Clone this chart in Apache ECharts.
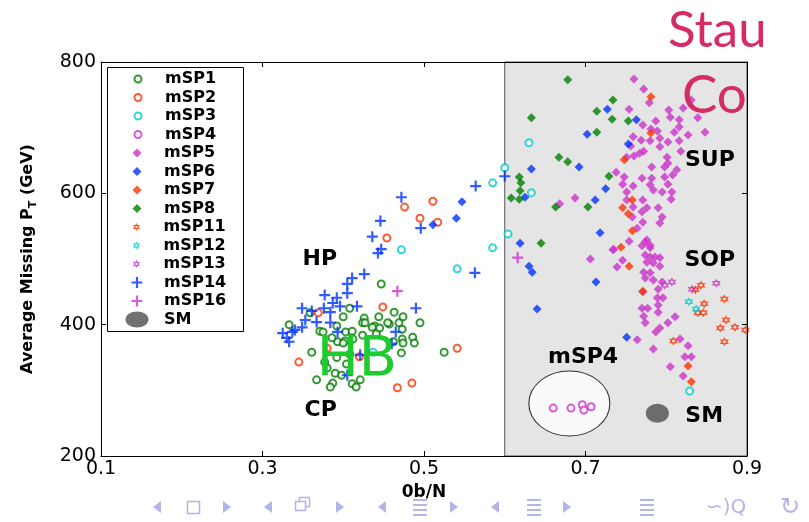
<!DOCTYPE html>
<html><head><meta charset="utf-8">
<script src="https://cdn.jsdelivr.net/npm/echarts@6/dist/echarts.min.js"></script>
<style>html,body{margin:0;padding:0;background:#fff}#c{width:809px;height:522px}</style>
</head><body><div id="c"></div>
<script>
// ---- axis / ticks ----
const xTicks = [0.1, 0.3, 0.5, 0.7, 0.9];
const yTicks = [200, 400, 600, 800];
const shadedRange = [0.6, 0.9];

// ---- series data [0b/N, Average missing PT (GeV)] ----
const mSP1 = [[0.447,462],[0.333,400],[0.359,418],[0.408,425],[0.400,412],[0.426,410],[0.444,412],[0.463,419],[0.474,412],[0.424,403],[0.439,398],[0.457,401],[0.469,403],[0.473,393],[0.495,403],[0.436,396],[0.371,390],[0.392,398],[0.403,389],[0.411,390],[0.424,384],[0.441,386],[0.486,381],[0.473,378],[0.462,374],[0.474,372],[0.488,372],[0.393,374],[0.402,375],[0.361,358],[0.408,355],[0.472,357],[0.525,358],[0.377,343],[0.380,334],[0.390,326],[0.398,323],[0.367,316],[0.387,311],[0.384,305],[0.411,310],[0.416,305],[0.421,316],[0.375,389],[0.455,403],[0.427,403],[0.386,380],[0.400,372],[0.412,378],[0.445,395],[0.392,350],[0.404,340]];
const mSP2 = [[0.476,579],[0.511,588],[0.495,562],[0.517,556],[0.454,532],[0.449,427],[0.369,418],[0.345,343],[0.380,364],[0.420,351],[0.541,364],[0.485,311],[0.467,304]];
const mSP3 = [[0.630,677],[0.600,639],[0.585,616],[0.633,601],[0.604,538],[0.585,517],[0.472,514],[0.541,485],[0.829,299],[0.437,358]];
const mSP4 = [[0.660,273],[0.682,273],[0.696,278],[0.698,270],[0.707,275]];
const mSP5 = [[0.760,774],[0.772,759],[0.779,738],[0.754,728],[0.803,727],[0.805,716],[0.821,730],[0.831,742],[0.816,712],[0.839,715],[0.848,693],[0.827,689],[0.816,701],[0.810,693],[0.816,680],[0.802,678],[0.792,684],[0.789,695],[0.787,710],[0.771,704],[0.781,698],[0.759,686],[0.769,681],[0.780,680],[0.756,672],[0.792,671],[0.818,664],[0.772,664],[0.767,661],[0.760,657],[0.751,655],[0.801,655],[0.802,646],[0.782,640],[0.798,640],[0.813,636],[0.808,628],[0.798,625],[0.738,632],[0.748,625],[0.770,623],[0.782,623],[0.746,614],[0.759,611],[0.780,613],[0.802,614],[0.784,605],[0.795,602],[0.807,602],[0.751,602],[0.806,591],[0.751,590],[0.759,579],[0.771,590],[0.776,578],[0.790,578],[0.770,572],[0.795,564],[0.758,564],[0.771,556],[0.792,555],[0.764,547],[0.754,527],[0.774,526],[0.780,521],[0.734,514],[0.687,593],[0.668,584],[0.706,500],[0.776,529],[0.770,520],[0.780,517],[0.735,515],[0.746,498],[0.739,488],[0.774,506],[0.780,503],[0.786,503],[0.792,502],[0.776,495],[0.784,494],[0.792,489],[0.772,480],[0.780,479],[0.774,471],[0.784,468],[0.795,465],[0.790,454],[0.771,450],[0.789,441],[0.796,441],[0.790,430],[0.770,425],[0.777,425],[0.790,419],[0.772,413],[0.774,403],[0.811,412],[0.802,403],[0.792,395],[0.787,389],[0.764,377],[0.784,363],[0.817,378],[0.827,368],[0.823,351],[0.831,351],[0.805,336],[0.821,322]];
const mSP6 = [[0.727,728],[0.763,712],[0.702,690],[0.692,640],[0.633,637],[0.753,675],[0.725,607],[0.712,590],[0.625,594],[0.718,540],[0.619,524],[0.630,489],[0.634,480],[0.713,465],[0.640,424],[0.751,381],[0.547,587],[0.540,562],[0.511,552]];
const mSP7 = [[0.781,747],[0.781,692],[0.748,651],[0.758,590],[0.746,578],[0.753,569],[0.758,543],[0.744,518],[0.754,489],[0.771,451],[0.827,337],[0.831,313]];
const mSP8 = [[0.678,773],[0.734,742],[0.714,725],[0.733,713],[0.753,710],[0.633,715],[0.714,693],[0.667,655],[0.678,648],[0.729,626],[0.618,625],[0.620,616],[0.619,604],[0.608,593],[0.618,591],[0.663,579],[0.703,579],[0.645,524]];
const mSP11 = [[0.836,453],[0.843,460],[0.847,432],[0.846,418],[0.839,418],[0.872,439],[0.874,407],[0.867,395],[0.885,396],[0.898,392],[0.872,374],[0.809,375]];
const mSP12 = [[0.828,435],[0.837,424]];
const mSP13 = [[0.798,460],[0.807,465],[0.832,454],[0.862,463]];
const mSP14 = [[0.564,611],[0.472,594],[0.446,558],[0.496,547],[0.436,534],[0.447,515],[0.443,509],[0.563,479],[0.426,477],[0.411,471],[0.405,462],[0.405,448],[0.377,445],[0.392,441],[0.387,433],[0.396,428],[0.417,428],[0.490,425],[0.349,425],[0.361,421],[0.376,425],[0.384,419],[0.353,407],[0.367,404],[0.384,403],[0.349,396],[0.337,389],[0.325,387],[0.333,374],[0.393,389],[0.465,389],[0.460,371],[0.421,354],[0.405,323],[0.600,626],[0.330,380],[0.340,392]];
const mSP16 = [[0.467,451],[0.616,502]];
const SM = [[0.789,265]];
const mSP4Circle = [[0.680,280]];

// annotation texts and where they sit (data coordinates)
const annotationNames = ['HP','CP','SUP','SOP','SM','mSP4'];
const annotationAt = [[0.371,500],[0.372,270],[0.854,651],[0.854,498],[0.847,261],[0.697,351]];
const hbText = 'HB';
const hbAt = [0.417,346];

// ---- styling ----
const F = 'DejaVu Sans';
const C = {green:'#008000', red:'#ff3300', cyan:'#00cccc', mag:'#cc33cc', blue:'#0033ff', sm:'#4d4d4d'};
const HEX = 'path://M10,0L12.89,5L18.66,5L15.77,10L18.66,15L12.89,15L10,20L7.11,15L1.34,15L4.23,10L1.34,5L7.11,5Z M11.6,7.2L8.4,7.2L6.8,10L8.4,12.8L11.6,12.8L13.2,10Z';
const PLUS = 'path://M4,0H6V4H10V6H6V10H4V6H0V4H4Z';
// legend icons padded to the full 44px slot with invisible corner specks
const SMICON = 'path://M0,0L0.01,0L0,0.01Z M44,16L43.99,16L44,15.99Z M10.5,8A11.5,8 0 1,0 33.5,8A11.5,8 0 1,0 10.5,8Z';
const DIAICON = 'path://M0,0L0.01,0L0,0.01Z M44,9L43.99,9L44,8.99Z M22,0L26.5,4.5L22,9L17.5,4.5Z';

function sc(name, data, symbol, size, color, extra) {
  return Object.assign({
    name, type:'scatter', data, symbol, symbolSize:size, animation:false,
    itemStyle:{color}, z:3
  }, extra || {});
}
const emptyStyle = c => ({itemStyle:{color:c, borderColor:c, borderWidth:1.2}});

const series = [
  {type:'scatter', data:[], silent:true, z:1,
   markArea:{silent:true, itemStyle:{color:'#e5e5e5', borderColor:'#555', borderWidth:1},
     data:[[{xAxis:shadedRange[0], yAxis:yTicks[0]},{xAxis:shadedRange[1], yAxis:yTicks[yTicks.length-1]}]]}},
  {type:'scatter', name:'circle', data:mSP4Circle, symbol:'circle', symbolSize:[81,65], silent:true, z:2,
   itemStyle:{color:'#fff', borderColor:'#000', borderWidth:1}},
  sc('mSP1', mSP1, 'emptyCircle', 7, C.green, emptyStyle(C.green)),
  sc('mSP2', mSP2, 'emptyCircle', 7, C.red, emptyStyle(C.red)),
  sc('mSP3', mSP3, 'emptyCircle', 7, C.cyan, emptyStyle(C.cyan)),
  sc('mSP4', mSP4, 'emptyCircle', 7, C.mag, emptyStyle(C.mag)),
  sc('mSP5', mSP5, 'diamond', 9, C.mag),
  sc('mSP6', mSP6, 'diamond', 9, C.blue),
  sc('mSP7', mSP7, 'diamond', 9, C.red),
  sc('mSP8', mSP8, 'diamond', 9, C.green),
  sc('mSP11', mSP11, HEX, 9, C.red),
  sc('mSP12', mSP12, HEX, 9, C.cyan),
  sc('mSP13', mSP13, HEX, 9, C.mag),
  sc('mSP14', mSP14, PLUS, 11, C.blue),
  sc('mSP16', mSP16, PLUS, 11, C.mag),
  sc('SM', SM, 'circle', [23,19], C.sm)
];

const legendText = {fontFamily:F, fontWeight:'bold', fontSize:16, color:'#000', lineHeight:18};
function lg(names, top, h, left) {
  return {orient:'vertical', left:(left != null ? left : 115 + (44 - h) / 2), top, padding:0, itemGap:0.5,
    itemWidth:44, itemHeight:h, symbolKeepAspect:true, data:names, textStyle:legendText, selectedMode:false, z:5};
}

const navColor = '#b4b4e6';
const option = {
  animation:false,
  grid:{left:101, right:62, top:62, bottom:66},
  xAxis:[
    {type:'value', min:xTicks[0], max:xTicks[xTicks.length-1], interval:0.2, position:'bottom', z:5,
     axisLine:{lineStyle:{color:'#000', width:1}}, axisTick:{inside:true, length:5, lineStyle:{color:'#000'}},
     splitLine:{show:false},
     axisLabel:{fontFamily:F, fontSize:19, color:'#000', margin:4, formatter:v=>v.toFixed(1)},
     name:'0b/N', nameLocation:'middle', nameGap:23,
     nameTextStyle:{fontFamily:F, fontWeight:'bold', fontSize:17, color:'#000'}},
    {type:'value', min:xTicks[0], max:xTicks[xTicks.length-1], interval:0.2, position:'top', z:5,
     axisLine:{lineStyle:{color:'#000'}}, axisTick:{inside:true, length:5, lineStyle:{color:'#000'}},
     axisLabel:{show:false}, splitLine:{show:false}}
  ],
  yAxis:[
    {type:'value', min:yTicks[0], max:yTicks[yTicks.length-1], interval:200, position:'left', z:5,
     axisLine:{show:true, lineStyle:{color:'#000'}}, axisTick:{show:true, inside:true, length:5, lineStyle:{color:'#000'}},
     splitLine:{show:false},
     axisLabel:{fontFamily:F, fontSize:19, color:'#000', margin:5},
     name:'Average Missing P{sub|T} (GeV)', nameLocation:'middle', nameGap:62,
     nameTextStyle:{fontFamily:F, fontWeight:'bold', fontSize:16, color:'#000', lineHeight:22,
       rich:{sub:{fontFamily:F, fontWeight:'bold', fontSize:11, color:'#000', verticalAlign:'bottom', lineHeight:11}}}},
    {type:'value', min:yTicks[0], max:yTicks[yTicks.length-1], interval:200, position:'right', z:5,
     axisLine:{show:true, lineStyle:{color:'#000'}}, axisTick:{show:true, inside:true, length:5, lineStyle:{color:'#000'}},
     axisLabel:{show:false}, splitLine:{show:false}}
  ],
  legend:[
    lg(['mSP1','mSP2','mSP3','mSP4'], 70, 7),
    lg(['mSP5','mSP6','mSP7','mSP8'].map(n=>({name:n, icon:DIAICON})), 144, 9, 115),
    lg(['mSP11','mSP12','mSP13'], 218, 8),
    lg(['mSP14','mSP16'], 273.5, 11),
    lg([{name:'SM', icon:SMICON}], 310.5, 16, 115)
  ],
  graphic:[
    {id:'lgbox', type:'rect', shape:{x:107.5, y:67.5, width:136, height:264}, style:{fill:'#fff', stroke:'#000', lineWidth:1}, z:4},
    {id:'stau', type:'text', x:668, y:31, z:10, style:{text:'Stau', font:'51px Lato', fill:'#d52c64', verticalAlign:'middle'}},
    {id:'co', type:'text', x:682, y:96, z:10, style:{text:'Co', font:'53px Lato', fill:'#d52c64', verticalAlign:'middle'}},
    {id:'nav', type:'group', z:10, children:[
      {type:'polygon', shape:{points:[[161,501],[161,513],[153,507]]}, style:{fill:navColor}},
      {type:'rect', shape:{x:187.5,y:501.5,width:12,height:12}, style:{fill:'none', stroke:navColor, lineWidth:1.5}},
      {type:'polygon', shape:{points:[[223,501],[223,513],[231,507]]}, style:{fill:navColor}},
      {type:'polygon', shape:{points:[[272,501],[272,513],[264,507]]}, style:{fill:navColor}},
      {type:'rect', shape:{x:299.5,y:497.5,width:10,height:9}, style:{fill:'#fff', stroke:navColor, lineWidth:1.5}},
      {type:'rect', shape:{x:295.5,y:501.5,width:10,height:9}, style:{fill:'#fff', stroke:navColor, lineWidth:1.5}},
      {type:'polygon', shape:{points:[[336,501],[336,513],[344,507]]}, style:{fill:navColor}},
      {type:'polygon', shape:{points:[[386,501],[386,513],[378,507]]}, style:{fill:navColor}},
      {type:'rect', shape:{x:413,y:499,width:14,height:2}, style:{fill:navColor}},
      {type:'rect', shape:{x:413,y:504,width:14,height:2}, style:{fill:navColor}},
      {type:'rect', shape:{x:413,y:509,width:14,height:2}, style:{fill:navColor}},
      {type:'rect', shape:{x:413,y:514,width:14,height:2}, style:{fill:navColor}},
      {type:'polygon', shape:{points:[[450,501],[450,513],[458,507]]}, style:{fill:navColor}},
      {type:'polygon', shape:{points:[[499,501],[499,513],[491,507]]}, style:{fill:navColor}},
      {type:'rect', shape:{x:527,y:499,width:14,height:2}, style:{fill:navColor}},
      {type:'rect', shape:{x:527,y:504,width:14,height:2}, style:{fill:navColor}},
      {type:'rect', shape:{x:527,y:509,width:14,height:2}, style:{fill:navColor}},
      {type:'rect', shape:{x:527,y:514,width:14,height:2}, style:{fill:navColor}},
      {type:'polygon', shape:{points:[[563,501],[563,513],[571,507]]}, style:{fill:navColor}},
      {type:'rect', shape:{x:640,y:499,width:14,height:2}, style:{fill:navColor}},
      {type:'rect', shape:{x:640,y:504,width:14,height:2}, style:{fill:navColor}},
      {type:'rect', shape:{x:640,y:509,width:14,height:2}, style:{fill:navColor}},
      {type:'rect', shape:{x:640,y:514,width:14,height:2}, style:{fill:navColor}},
      {type:'text', x:706, y:508, style:{text:'∽)Q', font:'20px "DejaVu Sans"', fill:navColor, verticalAlign:'middle'}},
      {type:'text', x:780, y:508, style:{text:'↻', font:'24px "DejaVu Sans"', fill:navColor, verticalAlign:'middle'}}
    ]}
  ],
  series
};
const chart = echarts.init(document.getElementById('c'));
chart.setOption(option);

// annotation texts placed through the axes' own scales
const notes = annotationNames.map((n, i) => {
  const p = chart.convertToPixel({gridIndex:0}, annotationAt[i]);
  return {id:'note'+i, type:'text', x:p[0], y:p[1], z:20,
    style:{text:n, font:'bold 22px "DejaVu Sans"', fill:'#000', align:'center', verticalAlign:'middle'}};
});
const hp = chart.convertToPixel({gridIndex:0}, hbAt);
notes.push({id:'hb', type:'text', x:hp[0], y:hp[1], z:20,
  style:{text:hbText, font:'56px "DejaVu Sans"', fill:'#1ccc2c', align:'center', verticalAlign:'middle'}});
chart.setOption({graphic:notes});
</script></body></html>
